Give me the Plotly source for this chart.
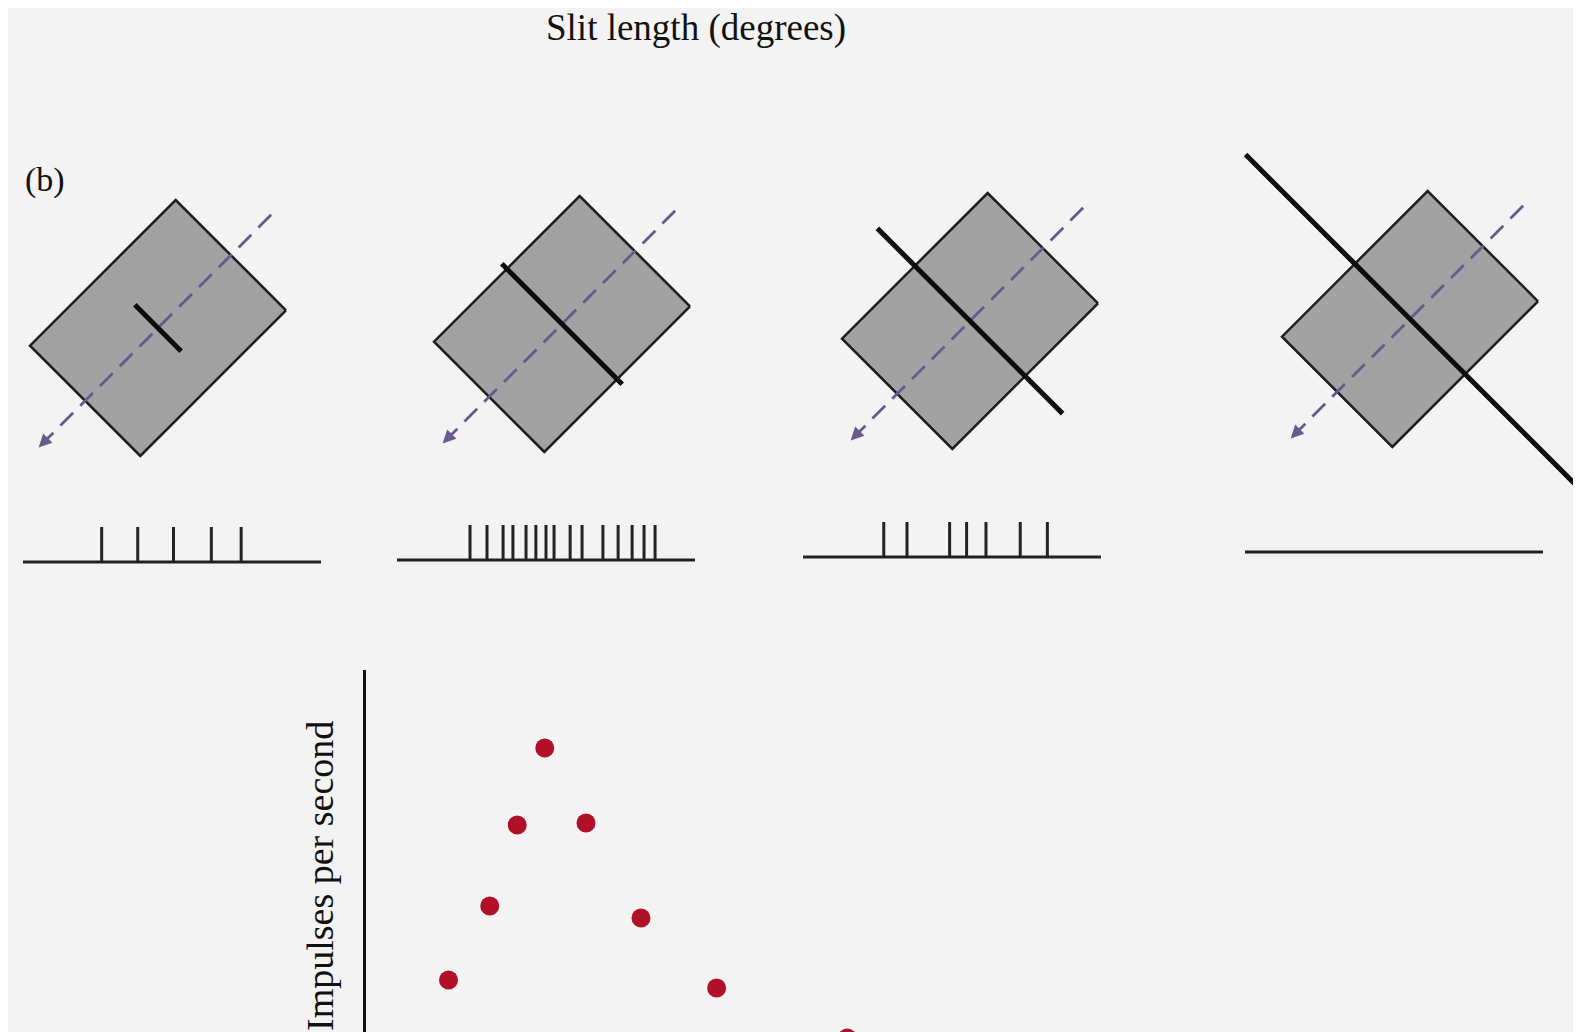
import numpy as np
import plotly.graph_objects as go

# ---------------- data ----------------
# stimulus slit lengths (degrees) for the four panels
stim_slit_deg = [0.5, 1.3, 2.0, 3.55]
# spike times (ms within a 1000 ms window) recorded for each stimulus
spike_times = [
    [264, 385, 505, 632, 732],
    [245, 302, 356, 389, 433, 466, 500, 527, 581, 621, 691, 742, 789, 829, 866],
    [271, 349, 492, 549, 614, 729, 820],
    [],
]
# tuning curve: slit length (degrees) vs impulses per second
slit_length = [0.6, 0.9, 1.1, 1.3, 1.6, 2.0, 2.55, 3.5]
impulses = [12, 19.4, 27.5, 35.2, 27.7, 18.2, 11.2, 6.2]

title_text = "Slit length (degrees)"
panel_label = "(b)"
y_title = "Impulses per second"

# ---------------- layout constants (page pixels) ----------------
W, H = 1581, 1032
OFF = 8  # page offset of the figure
centers_x = [158, 562, 970, 1410]
centers_y = [328, 324, 321, 319]
half_long, half_short = 103, 78
px_per_deg_stim = 131
dash_half = 166
train_left = [23, 397, 803, 1245]
train_y = [562, 560, 557, 552]
train_len = 298
spike_h = 35

axis_x_px = 366
axis_top_px = 670
px_per_deg = 137.5
px_per_imp = 10.0
zero_imp_px = 1100

fill_col = "#a2a2a2"
edge_col = "#1e1e1e"
dash_col = "#675a8c"
ink = "#111111"
dot_col = "#b01129"
bg = "#f3f3f3"

u = np.array([1, -1]) / np.sqrt(2)   # long axis: up-right (screen coords)
v = np.array([1, 1]) / np.sqrt(2)    # short axis: down-right

fig = go.Figure()

for i in range(4):
    c = np.array([centers_x[i], centers_y[i]], dtype=float)
    corners = [c + half_long * u + half_short * v,
               c + half_long * u - half_short * v,
               c - half_long * u - half_short * v,
               c - half_long * u + half_short * v]
    corners.append(corners[0])
    fig.add_trace(go.Scatter(
        x=[p[0] for p in corners], y=[p[1] for p in corners],
        mode="lines", fill="toself", fillcolor=fill_col,
        line=dict(color=edge_col, width=2.5),
        xaxis="x", yaxis="y", hoverinfo="skip", showlegend=False))
    # dashed preferred-direction line
    p0 = c - dash_half * u
    p1 = c + dash_half * u
    fig.add_trace(go.Scatter(
        x=[p0[0], p1[0]], y=[p0[1], p1[1]], mode="lines",
        line=dict(color=dash_col, width=2.8, dash="18px,10px"),
        xaxis="x", yaxis="y", hoverinfo="skip", showlegend=False))
    tail = p0 + 14 * u
    fig.add_annotation(x=p0[0] - 2, y=p0[1] + 2, ax=tail[0], ay=tail[1],
                       xref="x", yref="y", axref="x", ayref="y",
                       text="", showarrow=True, arrowhead=2, arrowsize=1.3,
                       arrowwidth=2, arrowcolor=dash_col)
    # slit
    s = stim_slit_deg[i] * px_per_deg_stim / 2
    a = c - s * v
    b = c + s * v
    fig.add_trace(go.Scatter(
        x=[a[0], b[0]], y=[a[1], b[1]], mode="lines",
        line=dict(color="#0d0d0d", width=5),
        xaxis="x", yaxis="y", hoverinfo="skip", showlegend=False))
    # spike train
    xs = [train_left[i], train_left[i] + train_len]
    ys = [train_y[i], train_y[i]]
    for t in spike_times[i]:
        xp = train_left[i] + t / 1000 * train_len
        xs += [None, xp, xp]
        ys += [None, train_y[i], train_y[i] - spike_h]
    fig.add_trace(go.Scatter(
        x=xs, y=ys, mode="lines", line=dict(color="#222222", width=3),
        xaxis="x", yaxis="y", hoverinfo="skip", showlegend=False))

# tuning curve
fig.add_trace(go.Scatter(
    x=slit_length, y=impulses, mode="markers",
    marker=dict(size=19, color=dot_col, line=dict(width=0)),
    xaxis="x2", yaxis="y2", showlegend=False))

fig.add_annotation(x=696, y=28, xref="x", yref="y", text=title_text,
                   showarrow=False, font=dict(family="Liberation Serif", size=37, color=ink))
fig.add_annotation(x=45, y=180, xref="x", yref="y", text=panel_label,
                   showarrow=False, font=dict(family="Liberation Serif", size=34, color=ink))
fig.add_annotation(x=320, y=876, xref="x", yref="y", text=y_title, textangle=-90,
                   showarrow=False, font=dict(family="Liberation Serif", size=38, color=ink))

dom_x0 = (axis_x_px - OFF) / W
dom_y1 = (H - (axis_top_px - OFF)) / H
fig.update_layout(
    width=W, height=H, margin=dict(l=0, r=0, t=0, b=0),
    paper_bgcolor=bg, plot_bgcolor="rgba(0,0,0,0)",
    xaxis=dict(range=[OFF, W + OFF], domain=[0, 1], visible=False, fixedrange=True),
    yaxis=dict(range=[H + OFF, OFF], domain=[0, 1], visible=False, fixedrange=True),
    xaxis2=dict(range=[0, (W + OFF - axis_x_px) / px_per_deg], domain=[dom_x0, 1],
                anchor="y2", showline=False, showgrid=False, zeroline=False,
                showticklabels=False, ticks=""),
    yaxis2=dict(range=[(zero_imp_px - (H + OFF)) / px_per_imp,
                       (zero_imp_px - axis_top_px) / px_per_imp],
                domain=[0, dom_y1], anchor="x2", showline=True, linecolor="#111",
                linewidth=2.5, showgrid=False, zeroline=False,
                showticklabels=False, ticks=""),
)

fig.write_html("out.html")
